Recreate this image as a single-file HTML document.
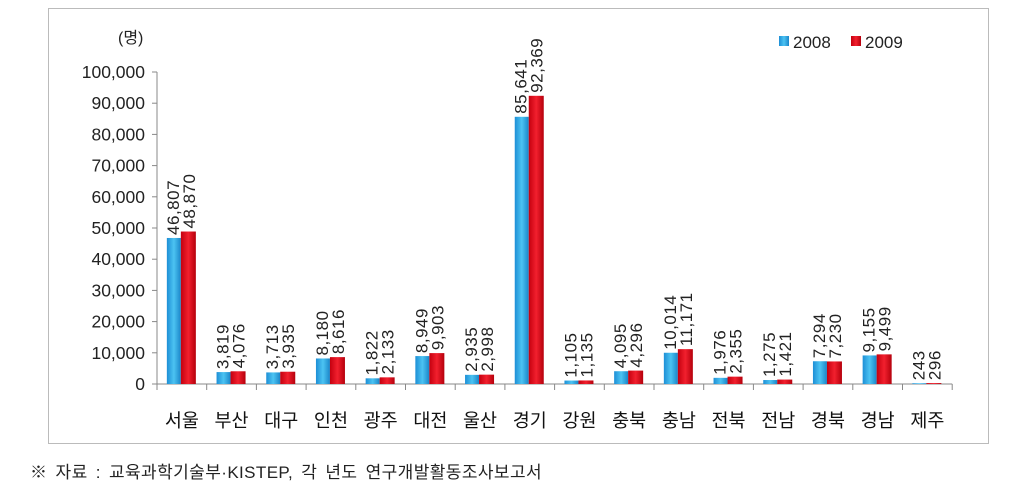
<!DOCTYPE html>
<html><head><meta charset="utf-8"><style>
body{margin:0;background:#fff;}
svg{display:block;font-family:"Liberation Sans","Noto Sans CJK KR",sans-serif;}
</style></head><body>
<svg id="c" width="1009" height="492">
<defs>
<linearGradient id="gb" x1="0" x2="1"><stop offset="0" stop-color="#1d8fd6"/><stop offset="0.5" stop-color="#4cc3f2"/><stop offset="1" stop-color="#1a86c9"/></linearGradient>
<linearGradient id="gr" x1="0" x2="1"><stop offset="0" stop-color="#c4000f"/><stop offset="0.5" stop-color="#f2202e"/><stop offset="1" stop-color="#b5000c"/></linearGradient>
</defs>
<rect x="48.5" y="8.5" width="940" height="435" fill="#fff" stroke="#bbb"/>
<text x="118" y="43" font-size="16" fill="#222">(명)</text>
<g id="legend">
<rect x="779" y="36" width="10" height="10" fill="url(#gb)"/>
<text x="793" y="48" font-size="17" fill="#222">2008</text>
<rect x="851" y="36" width="10" height="10" fill="url(#gr)"/>
<text x="865" y="48" font-size="17" fill="#222">2009</text>
</g>
<g id="plot"></g>
<text x="30" y="478" font-size="17" letter-spacing="0.4" word-spacing="3" fill="#222">※ 자료 : 교육과학기술부·KISTEP, 각 년도 연구개발활동조사보고서</text>
</svg>
<script>
const categories=["서울","부산","대구","인천","광주","대전","울산","경기","강원","충북","충남","전북","전남","경북","경남","제주"];
const values2008=[46807,3819,3713,8180,1822,8949,2935,85641,1105,4095,10014,1976,1275,7294,9155,243];
const values2009=[48870,4076,3935,8616,2133,9903,2998,92369,1135,4296,11171,2355,1421,7230,9499,296];
const yTicks=[0,10000,20000,30000,40000,50000,60000,70000,80000,90000,100000];
const X0=157,CW=49.7,Y0=384,YT=72,YMAX=100000;
const y=v=>Y0-(v/YMAX)*(Y0-YT);
const x=i=>X0+i*CW;
const g=document.getElementById('plot');
const NS="http://www.w3.org/2000/svg";
function mk(t,a){const e=document.createElementNS(NS,t);for(const k in a)e.setAttribute(k,a[k]);g.appendChild(e);return e;}
const fmt=v=>v.toLocaleString('en-US');
let ax=mk('line',{x1:X0,y1:YT,x2:X0,y2:Y0,stroke:'#888'});


let bx=mk('line',{x1:X0,y1:Y0,x2:x(categories.length),y2:Y0,stroke:'#888'});


yTicks.forEach(t=>{
 let l=mk('line',{x1:X0-5,y1:y(t),x2:X0,y2:y(t),stroke:'#888'});
 
 
 let tx=mk('text',{x:X0-12,y:y(t)+6,'font-size':17.5,'text-anchor':'end',fill:'#222'});
 tx.textContent=fmt(t);
 
 
});
for(let i=0;i<=categories.length;i++){
 let l=mk('line',{x1:x(i),y1:Y0,x2:x(i),y2:Y0+6,stroke:'#888'});
 
 
}
categories.forEach((c,i)=>{
 const cx=x(i)+CW/2;
 const b1=mk('rect',{x:cx-15,y:y(values2008[i]),width:14,height:Y0-y(values2008[i]),fill:'url(#gb)'});
 
 
 const b2=mk('rect',{x:cx-1,y:y(values2009[i]),width:15,height:Y0-y(values2009[i]),fill:'url(#gr)'});
 
 
 [[values2008[i],cx-3],[values2009[i],cx+13]].forEach(([v,px],k)=>{
  const ty=y(v)-3;
  const t=mk('text',{x:px,y:ty,'font-size':17,'letter-spacing':0.5,fill:'#222',transform:`rotate(-90 ${px} ${ty})`});
  t.textContent=fmt(v);
  
  
 });
 const lb=mk('text',{x:cx,y:427,'font-size':18.5,'text-anchor':'middle',fill:'#111'});
 lb.textContent=c;
 
 
});
</script>
</body></html>
